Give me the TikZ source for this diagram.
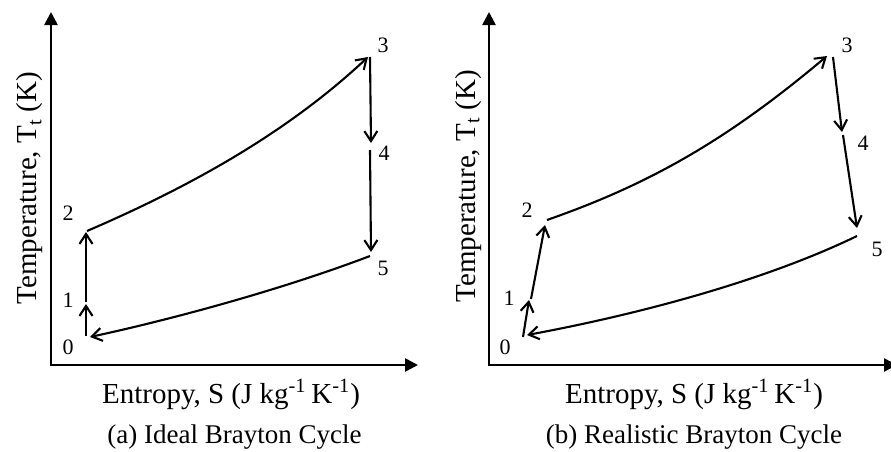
\documentclass[tikz,border=0pt]{standalone}
\usepackage{fontspec}
\setmainfont{Liberation Serif}
\usetikzlibrary{arrows.meta}
\begin{document}
\begin{tikzpicture}[x=0.5pt,y=-0.5pt,
  axis/.style={line width=1.3pt,line join=miter,{Triangle[length=6.5pt,width=6.5pt]}-{Triangle[length=6.5pt,width=6.5pt]}},
  proc/.style={line width=1.05pt,-{Straight Barb[length=5pt,width=6.5pt]}},
  lab/.style={font=\fontsize{11}{13}\selectfont, inner sep=0pt},
  axlab/.style={font=\fontsize{14.5}{16}\selectfont, inner sep=0pt, anchor=base},
  capt/.style={font=\fontsize{13.5}{16}\selectfont, inner sep=0pt, anchor=base}]
\useasboundingbox (0,0) rectangle (891,451);

% ---------- (a) Ideal ----------
\coordinate (Ay) at (51,12);
\coordinate (Ao) at (51,365);
\coordinate (Ax) at (418,365);
\draw[axis] (Ay) -- (Ao) -- (Ax);

\coordinate (a0) at (86,336);
\coordinate (a0e) at (90,337);
\coordinate (a1) at (86,304);
\coordinate (a1s) at (86,302);
\coordinate (a2) at (86,232);
\coordinate (a2s) at (87,231);
\coordinate (a3) at (368,57);
\coordinate (a3s) at (370,57);
\coordinate (a4) at (371,143);
\coordinate (a4s) at (370,150);
\coordinate (a5) at (371,252);
\coordinate (a5s) at (370,256);

\draw[proc] (a0) -- (a1);
\draw[proc] (a1s) -- (a2);
\draw[proc] (a2s) .. controls (187,188) and (286,134) .. (a3);
\draw[proc] (a3s) -- (a4);
\draw[proc] (a4s) -- (a5);
\draw[proc] (a5s) .. controls (286,288) and (178,318) .. (a0e);

\node[lab] (la0) at (68,347) {0};
\node[lab] (la1) at (68,300) {1};
\node[lab] (la2) at (68,213) {2};
\node[lab] (la3) at (383,45) {3};
\node[lab] (la4) at (384,153) {4};
\node[lab] (la5) at (383,268) {5};

\node[axlab] (xa) at (231,403) {Entropy, S (J kg\textsuperscript{-1}\,K\textsuperscript{-1})};
\node[axlab,rotate=90] (ya) at (37,188) {Temperature, T\textsubscript{t} (K)};
\node[capt] (ca) at (234.5,443) {(a) Ideal Brayton Cycle};

% ---------- (b) Realistic ----------
\coordinate (By) at (489,12);
\coordinate (Bo) at (489,365);
\coordinate (Bx) at (897,365);
\draw[axis] (By) -- (Bo) -- (Bx);

\coordinate (b0) at (523,337);
\coordinate (b0e) at (527,335);
\coordinate (b1) at (529,300);
\coordinate (b1s) at (531,299);
\coordinate (b2) at (545,225);
\coordinate (b2s) at (547,220);
\coordinate (b3) at (827,56);
\coordinate (b3s) at (833,57);
\coordinate (b4) at (842,132);
\coordinate (b4s) at (843,135);
\coordinate (b5) at (857,228);
\coordinate (b5s) at (857,236);

\draw[proc] (b0) -- (b1);
\draw[proc] (b1s) -- (b2);
\draw[proc] (b2s) .. controls (647,185) and (725,142) .. (b3);
\draw[proc] (b3s) -- (b4);
\draw[proc] (b4s) -- (b5);
\draw[proc] (b5s) .. controls (760,283) and (630,316) .. (b0e);

\node[lab] (lb0) at (505,347) {0};
\node[lab] (lb1) at (509,298) {1};
\node[lab] (lb2) at (527,210) {2};
\node[lab] (lb3) at (847,45) {3};
\node[lab] (lb4) at (863,143) {4};
\node[lab] (lb5) at (877,249) {5};

\node[axlab] (xb) at (694,403) {Entropy, S (J kg\textsuperscript{-1}\,K\textsuperscript{-1})};
\node[axlab,rotate=90] (yb) at (475,186) {Temperature, T\textsubscript{t} (K)};
\node[capt] (cb) at (694,443) {(b) Realistic Brayton Cycle};
\end{tikzpicture}
\end{document}
